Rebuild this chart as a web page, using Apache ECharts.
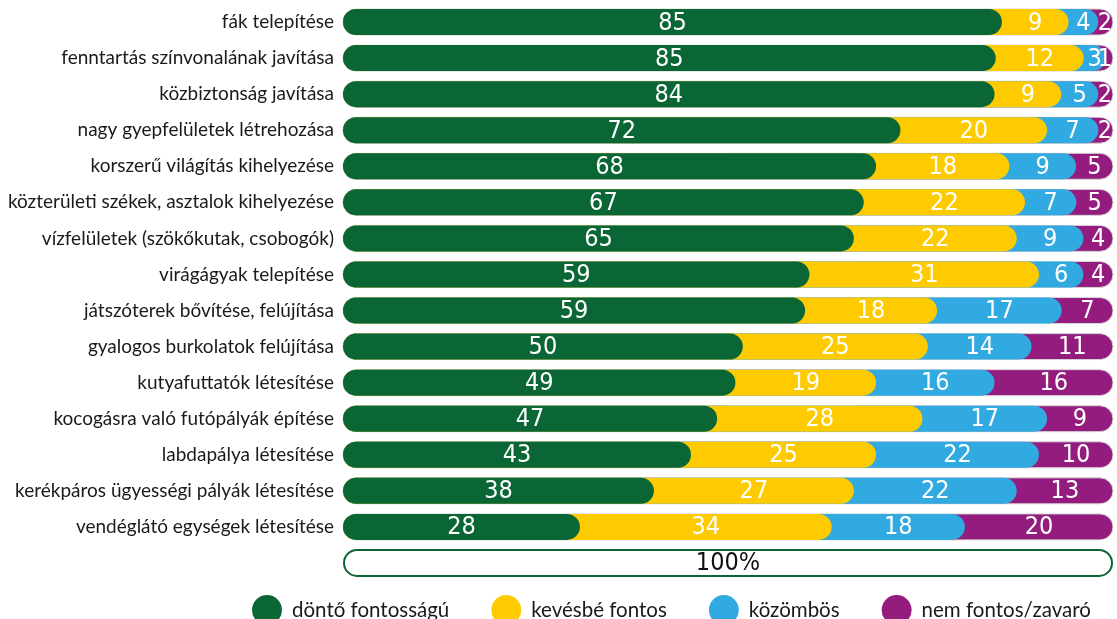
<!DOCTYPE html>
<html lang="hu">

<head>
  <meta charset="UTF-8">
  <title>chart</title>
  <style>
    body,
    html {
      margin: 0;
      padding: 0;
      background: #fff;
    }

    #main {
      width: 1117px;
      height: 619px;
    }
  </style>
</head>

<body>
  <div id="main"></div>
  <script src="https://cdn.jsdelivr.net/npm/echarts@6/dist/echarts.min.js"></script>
  <script>
    var categories = [
      'fák telepítése',
      'fenntartás színvonalának javítása',
      'közbiztonság javítása',
      'nagy gyepfelületek létrehozása',
      'korszerű világítás kihelyezése',
      'közterületi székek, asztalok kihelyezése',
      'vízfelületek (szökőkutak, csobogók)',
      'virágágyak telepítése',
      'játszóterek bővítése, felújítása',
      'gyalogos burkolatok felújítása',
      'kutyafuttatók létesítése',
      'kocogásra való futópályák építése',
      'labdapálya létesítése',
      'kerékpáros ügyességi pályák létesítése',
      'vendéglátó egységek létesítése'
    ];
    var seriesNames = ['döntő fontosságú', 'kevésbé fontos', 'közömbös', 'nem fontos/zavaró'];
    var dontoFontos = [85, 85, 84, 72, 68, 67, 65, 59, 59, 50, 49, 47, 43, 38, 28];
    var kevesbeFontos = [9, 12, 9, 20, 18, 22, 22, 31, 18, 25, 19, 28, 25, 27, 34];
    var kozombos = [4, 3, 5, 7, 9, 7, 9, 6, 17, 14, 16, 17, 22, 22, 18];
    var nemFontos = [2, 1, 2, 2, 5, 5, 4, 4, 7, 11, 16, 9, 10, 13, 20];
    var colors = ['#0b6636', '#fecb00', '#31a9e1', '#931c7e'];
    var totalLabel = '100%';

    var values = [dontoFontos, kevesbeFontos, kozombos, nemFontos];
    var valueFont = '25px "DejaVu Sans Condensed", "DejaVu Sans", sans-serif';
    var textFont = 'Lato';

    // cumulative start / end of every segment, as % of the row total
    var totals = categories.map(function (c, i) {
      return values.reduce(function (a, arr) { return a + arr[i]; }, 0);
    });
    var starts = [], ends = [];
    values.forEach(function (arr, s) {
      starts.push(arr.map(function (v, i) {
        var sum = 0;
        for (var k = 0; k < s; k++) sum += values[k][i];
        return sum * 100 / totals[i];
      }));
      ends.push(arr.map(function (v, i) {
        return starts[s][i] + v * 100 / totals[i];
      }));
    });

    function pillSeries(s) {
      var last = s === values.length - 1;
      return {
        name: seriesNames[s],
        type: 'custom',
        z: 10 - s,
        itemStyle: { color: colors[s] },
        data: values[s].map(function (v, i) {
          return [starts[s][i], ends[s][i], i];
        }),
        renderItem: function (params, api) {
          var cs = params.coordSys;
          var row = api.value(2);
          var y = api.coord([0, row])[1];
          var h = api.size([0, 1])[1] * 0.72;
          var right = cs.x + cs.width;
          var tip = last ? right : Math.min(api.coord([api.value(1), row])[0], right);
          return {
            type: 'rect',
            shape: { x: cs.x, y: y - h / 2, width: tip - cs.x, height: h, r: h / 2 },
            style: last ? { fill: api.visual('color'), stroke: '#d6d6d6', lineWidth: 1 } : { fill: api.visual('color') }
          };
        }
      };
    }

    var series = values.map(function (v, s) {
      return pillSeries(s);
    });

    // value labels, drawn above all pills, centred in the visible part
    var labelData = [];
    values.forEach(function (arr, s) {
      arr.forEach(function (v, i) {
        labelData.push([starts[s][i], ends[s][i], i, v, s]);
      });
    });
    series.push({
      name: 'labels',
      type: 'custom',
      z: 20,
      silent: true,
      data: labelData,
      renderItem: function (params, api) {
        var cs = params.coordSys;
        var row = api.value(2);
        var s = api.value(4);
        var last = s === values.length - 1;
        var y = api.coord([0, row])[1];
        var right = cs.x + cs.width;
        var tip = last ? right : Math.min(api.coord([api.value(1), row])[0], right);
        var prevTip = s === 0 ? cs.x : api.coord([api.value(0), row])[0];
        var x = (prevTip + tip) / 2;
        if (last) x = Math.min(x, right - 8);
        return {
          type: 'text',
          x: x,
          y: y + 1,
          style: {
            text: String(api.value(3)),
            fill: '#fff',
            font: valueFont,
            align: 'center',
            verticalAlign: 'middle'
          }
        };
      }
    });

    // the "100%" reference pill below the rows
    series.push({
      name: 'total',
      type: 'custom',
      z: 1,
      data: [[0, 100, categories.length, totalLabel]],
      renderItem: function (params, api) {
        var cs = params.coordSys;
        var y = api.coord([0, api.value(2)])[1];
        var h = api.size([0, 1])[1] * 0.72;
        return {
          type: 'group',
          children: [{
            type: 'rect',
            shape: { x: cs.x + 1, y: y - h / 2, width: cs.width - 2, height: h, r: h / 2 },
            style: { fill: '#fff', stroke: '#0b6636', lineWidth: 2 }
          }, {
            type: 'text',
            x: cs.x + cs.width / 2,
            y: y + 1,
            style: {
              text: api.value(3),
              fill: '#111',
              font: valueFont,
              align: 'center',
              verticalAlign: 'middle'
            }
          }]
        };
      }
    });

    var myChart = echarts.init(document.getElementById('main'));
    var option = {
      animation: false,
      legend: {
        data: seriesNames,
        left: 247,
        top: 590,
        icon: 'circle',
        itemWidth: 30,
        itemHeight: 30,
        itemGap: 42,
        textStyle: {
          fontFamily: textFont,
          fontSize: 20.5,
          color: '#1a1a1a',
          padding: [0, 0, 0, 5]
        }
      },
      grid: {
        left: 343,
        right: 4,
        top: 4,
        bottom: 38
      },
      xAxis: {
        type: 'value',
        min: -4,
        max: 100,
        show: false
      },
      yAxis: {
        type: 'category',
        inverse: true,
        data: categories.concat(['']),
        axisLine: { show: false },
        axisTick: { show: false },
        splitLine: { show: false },
        axisLabel: {
          margin: 9,
          fontFamily: textFont,
          fontSize: 19,
          color: '#1a1a1a'
        }
      },
      series: series
    };
    myChart.setOption(option);
  </script>
</body>

</html>
